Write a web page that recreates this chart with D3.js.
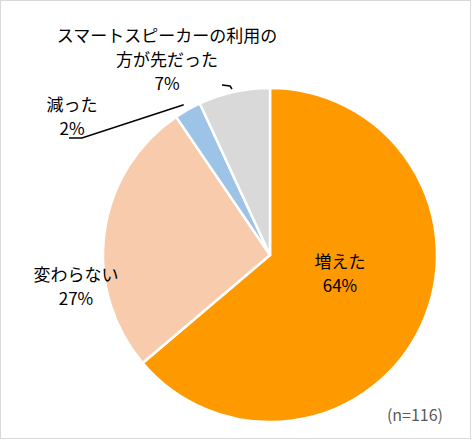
<!DOCTYPE html>
<html>
<head>
<meta charset="utf-8">
<script src="https://cdn.jsdelivr.net/npm/d3@7"></script>
<style>
  body { margin: 0; background: #fff; }
  text { font-family: "Noto Sans CJK JP", "Noto Sans", sans-serif; }
</style>
</head>
<body>
<div id="chart"></div>
<script>
// --- Data ---
var categories = ["増えた", "変わらない", "減った", "スマートスピーカーの利用の方が先だった"];
var shares = [63.8, 26.7, 2.6, 6.9];
var shareLabels = ["64%", "27%", "2%", "7%"];
var sampleNote = "(n=116)";

// --- Layout ---
const w = 473;
const h = 442;
const cx = 270;
const cy = 255;
const radius = 167;

var colors = ["#ff9900", "#f8cbad", "#9dc3e6", "#d9d9d9"];

// label blocks relative to pie center: [dx, dy of first line], lines of text
var labelLayout = [
    { dx: 70, dy: 7, lines: ["増えた"] },
    { dx: -194, dy: 20, lines: ["変わらない"] },
    { dx: -198, dy: -150, lines: ["減った"] },
    { dx: -103, dy: -219, lines: ["スマートスピーカーの利用の", "方が先だった"] }
];

var svg = d3.select("#chart")
    .append("svg")
    .attr("width", w)
    .attr("height", h);

// outer frame
svg.append("rect")
    .attr("x", 0.5)
    .attr("y", 0.5)
    .attr("width", 470)
    .attr("height", 438)
    .attr("fill", "none")
    .attr("stroke", "#d9d9d9");

var pie = d3.pie()
    .sort(null)
    .value(function (d) { return d; });

var arc = d3.arc()
    .innerRadius(0)
    .outerRadius(radius);

var arcs = pie(shares);

var g = svg.append("g")
    .attr("transform", "translate(" + cx + "," + cy + ")");

g.selectAll("path")
    .data(arcs)
    .enter()
    .append("path")
    .attr("d", arc)
    .attr("fill", function (d, i) { return colors[i]; })
    .attr("stroke", "#fff")
    .attr("stroke-width", 2.5)
    .attr("stroke-linejoin", "round");

// leader lines for the two small slices
var leader = d3.line();
var blueEdge = d3.arc().innerRadius(radius).outerRadius(radius)
    .centroid(arcs[2]);
g.append("path")
    .attr("d", leader([[-201, -117], [-188, -117], [blueEdge[0] - 4, blueEdge[1] - 5]]))
    .attr("fill", "none")
    .attr("stroke", "#000")
    .attr("stroke-width", 1.5);

g.append("path")
    .attr("d", leader([[-48, -170], [-40, -169], [-38, -166]]))
    .attr("fill", "none")
    .attr("stroke", "#000")
    .attr("stroke-width", 1.5);

// data labels
var lineStep = 24;
labelLayout.forEach(function (lab, i) {
    var t = g.append("text")
        .attr("text-anchor", "middle")
        .attr("font-size", "17px")
        .attr("fill", "#000");
    var allLines = lab.lines.concat([shareLabels[i]]);
    allLines.forEach(function (s, j) {
        t.append("tspan")
            .attr("x", lab.dx)
            .attr("y", lab.dy + j * lineStep)
            .attr("dy", "0.35em")
            .text(s);
    });
});

svg.append("text")
    .attr("x", 443)
    .attr("y", 421)
    .attr("text-anchor", "end")
    .attr("font-size", "16px")
    .attr("fill", "#595959")
    .text(sampleNote);
</script>
</body>
</html>
